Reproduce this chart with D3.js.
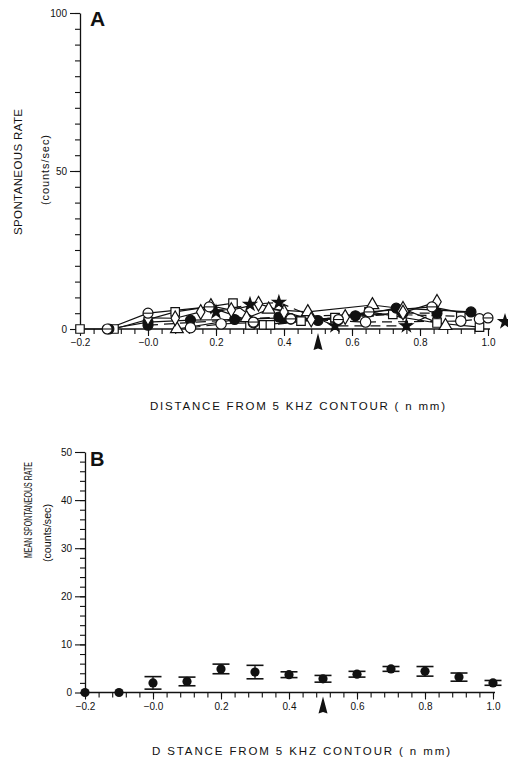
<!DOCTYPE html>
<html>
<head>
<meta charset="utf-8">
<script src="https://cdn.jsdelivr.net/npm/d3@7"></script>
<style>
  body { margin: 0; background: #fff; }
  svg { display: block; }
  text { font-family: "Liberation Sans", Arial, sans-serif; fill: #111; }
  .tick text { font-size: 10px; }
</style>
</head>
<body>
<svg id="chart" width="508" height="762"></svg>
<script>
// ---- data, panel A (distance in mm, rate counts/sec) ----
const aSquare   = [[-0.2,0],[-0.1,0],[0.08,5.4],[0.25,8.2],[0.34,1.3],[0.45,2.5],[0.55,3.5],[0.65,5.4],[0.85,1.9],[0.975,0.6]];
const aSquare2  = [[0.3,1.3],[0.36,1.3],[0.55,3.6],[0.72,4.6],[0.92,4.0]];
const aFilled   = [[-0.115,0],[0,2.2],[0.125,2.8],[0.255,3.0],[0.395,3.5],[0.5,2.7],[0.61,4.2],[0.73,6.6],[0.95,5.4]];
const aFilled2  = [[0,1.2],[0.385,3.8],[0.75,5.0],[0.85,5.0]];
const aCircle   = [[0.125,0.4],[0.215,1.6],[0.31,2.0],[0.42,3.2],[0.64,2.2],[0.92,2.5],[0.975,3.2]];
const aTriangle = [[0.085,0],[0.29,3.5],[0.355,6.2],[0.47,5.4],[0.66,7.6],[0.75,6.4],[0.875,1.0]];
const aDiamond  = [[0,3.5],[0.08,3.4],[0.155,5.4],[0.185,7.3],[0.245,6.0],[0.325,8.0],[0.4,5.4],[0.48,3.0],[0.58,3.8],[0.75,5.2],[0.85,8.6]];
const aStar     = [[0.2,5.4],[0.3,7.8],[0.385,8.4],[0.55,1.0],[0.76,1.0],[0.85,5.3]];
const aStarLone = [[1.05,2.3]];
const aTheta    = [[-0.12,0],[0,5.0],[0.18,7.0],[0.31,2.2],[0.42,3.2],[0.56,3.0],[0.65,5.4],[0.835,7.0],[1.0,3.5]];

// ---- data, panel B (mean +/- error) ----
const bX    = [-0.2,-0.1,0,0.1,0.2,0.3,0.4,0.5,0.6,0.7,0.8,0.9,1.0];
const bMean = [0,0,2.0,2.3,4.9,4.25,3.7,2.85,3.8,4.9,4.4,3.2,2.0];
const bErr  = [0,0,1.3,0.9,1.0,1.4,0.6,0.7,0.6,0.5,1.0,0.85,0.5];

// ---- ticks ----
const xTickLabels = [-0.2,0,0.2,0.4,0.6,0.8,1.0];
const aYTickLabels = [0,50,100];
const bYTickLabels = [0,10,20,30,40,50];
const arrowAt = 0.5;

const svg = d3.select("#chart");
const fmtX = d => d < 0 ? "\u2212" + Math.abs(d).toFixed(1) : (d === 0 ? "\u22120.0" : d.toFixed(1));

// panel geometry
const A = { x: d3.scaleLinear().domain([-0.2,1.0]).range([80,488]),
            y: d3.scaleLinear().domain([0,100]).range([329,13]) };
const B = { x: d3.scaleLinear().domain([-0.2,1.0]).range([85,493]),
            y: d3.scaleLinear().domain([0,50]).range([692.5,452]) };

function styleAxis(g) {
  g.selectAll("path.domain").attr("stroke", "#111").attr("stroke-width", 1.3);
  g.selectAll(".tick line").attr("stroke", "#111").attr("stroke-width", 1.1);
}

function drawAxes(P, yMinorStep, yMajor, xEnd) {
  const x0 = P.y.range()[0];
  const xMinor = d3.range(-0.2, 1.0001, 0.04);
  // minor x ticks
  svg.append("g").attr("transform", `translate(0,${x0})`)
    .call(d3.axisBottom(P.x).tickValues(xMinor).tickSize(5).tickFormat("").tickSizeOuter(0))
    .call(g => g.select("path.domain").remove())
    .call(styleAxis);
  // major x ticks + labels
  svg.append("g").attr("transform", `translate(0,${x0})`)
    .call(d3.axisBottom(P.x).tickValues(xTickLabels).tickSize(7).tickPadding(3).tickFormat(fmtX).tickSizeOuter(0))
    .call(g => g.select("path.domain").attr("d", `M${P.x.range()[0]},0H${xEnd}`))
    .call(styleAxis);
  // minor y ticks
  const yMinor = d3.range(0, P.y.domain()[1] + 0.001, yMinorStep);
  svg.append("g").attr("transform", `translate(${P.x.range()[0]},0)`)
    .call(d3.axisLeft(P.y).tickValues(yMinor).tickSize(5).tickFormat("").tickSizeOuter(0))
    .call(styleAxis);
  svg.append("g").attr("transform", `translate(${P.x.range()[0]},0)`)
    .call(d3.axisLeft(P.y).tickValues(yMajor).tickSize(10).tickPadding(3).tickSizeOuter(0))
    .call(g => g.select("path.domain").remove())
    .call(styleAxis);
  // arrow marker at 0.5
  const ax = P.x(arrowAt), ay = x0 + 4;
  svg.append("path")
    .attr("d", `M${ax},${ay} L${ax-4.5},${ay+17} L${ax},${ay+15.5} L${ax+4.5},${ay+17} Z`)
    .attr("fill", "#111");
}

drawAxes(A, 5, aYTickLabels, 490);
drawAxes(B, 2, bYTickLabels, 495);

// ---- panel A series ----
const line = d3.line().x(d => A.x(d[0])).y(d => A.y(d[1]));
const series = [
  { data: aSquare,   sym: d3.symbolSquare,   size: 72, fill: "#fff", dash: null },
  { data: aSquare2,  sym: d3.symbolSquare,   size: 72, fill: "#fff", dash: "9,5" },
  { data: aFilled,   sym: d3.symbolCircle,   size: 78, fill: "#111", dash: null },
  { data: aFilled2,  sym: d3.symbolCircle,   size: 78, fill: "#111", dash: "10,6" },
  { data: aCircle,   sym: d3.symbolCircle,   size: 85, fill: "#fff", dash: "10,6" },
  { data: aTriangle, sym: d3.symbolTriangle, size: 70, fill: "#fff", dash: null },
  { data: aDiamond,  sym: d3.symbolDiamond,  size: 62, fill: "#fff", dash: null },
  { data: aStar,     sym: d3.symbolStar,     size: 50, fill: "#111", dash: "10,6" },
  { data: aStarLone, sym: d3.symbolStar,     size: 50, fill: "#111", dash: null },
  { data: aTheta,    sym: d3.symbolCircle,   size: 78, fill: "#fff", dash: null, bar: true }
];

const gA = svg.append("g");
series.forEach(s => {
  if (s.data.length > 1) {
    gA.append("path").datum(s.data)
      .attr("d", line)
      .attr("fill", "none")
      .attr("stroke", "#111")
      .attr("stroke-width", 1.2)
      .attr("stroke-dasharray", s.dash);
  }
});
series.forEach(s => {
  const g = gA.append("g");
  g.selectAll("path.m").data(s.data).join("path")
    .attr("class", "m")
    .attr("transform", d => `translate(${A.x(d[0])},${A.y(d[1])})`)
    .attr("d", d3.symbol().type(s.sym).size(s.size))
    .attr("fill", s.fill)
    .attr("stroke", "#111")
    .attr("stroke-width", 1.2);
  if (s.bar) {
    g.selectAll("line.b").data(s.data).join("line")
      .attr("x1", d => A.x(d[0]) - 5).attr("x2", d => A.x(d[0]) + 5)
      .attr("y1", d => A.y(d[1])).attr("y2", d => A.y(d[1]))
      .attr("stroke", "#111").attr("stroke-width", 1.1);
  }
});

// ---- panel B points with error bars ----
const bData = bX.map((x, i) => ({ x, m: bMean[i], e: bErr[i] }));
const gB = svg.append("g");
const withErr = bData.filter(d => d.e > 0);
gB.selectAll("line.v").data(withErr).join("line")
  .attr("x1", d => B.x(d.x)).attr("x2", d => B.x(d.x))
  .attr("y1", d => B.y(d.m - d.e)).attr("y2", d => B.y(d.m + d.e))
  .attr("stroke", "#111").attr("stroke-width", 1.3);
["top", "bot"].forEach(k => {
  gB.selectAll("line.c" + k).data(withErr).join("line")
    .attr("x1", d => B.x(d.x) - 8.5).attr("x2", d => B.x(d.x) + 8.5)
    .attr("y1", d => B.y(k === "top" ? d.m + d.e : d.m - d.e))
    .attr("y2", d => B.y(k === "top" ? d.m + d.e : d.m - d.e))
    .attr("stroke", "#111").attr("stroke-width", 1.6);
});
gB.selectAll("circle").data(bData).join("circle")
  .attr("cx", d => B.x(d.x)).attr("cy", d => B.y(d.m))
  .attr("r", 4.6).attr("fill", "#111");

// ---- titles ----
svg.append("text").attr("x", 90).attr("y", 26)
  .attr("font-size", 21).attr("font-weight", "bold").text("A");
svg.append("text").attr("x", 90).attr("y", 466)
  .attr("font-size", 20).attr("font-weight", "bold").text("B");

function hTitle(txt, x, y, len, size) {
  svg.append("text").attr("x", x).attr("y", y)
    .attr("font-size", size).attr("textLength", len).attr("lengthAdjust", "spacing")
    .text(txt);
}
function vTitle(txt, cx, cy, len, size, adjust) {
  svg.append("text")
    .attr("transform", `translate(${cx},${cy}) rotate(-90)`)
    .attr("text-anchor", "middle").attr("dy", "0.35em")
    .attr("font-size", size).attr("textLength", len).attr("lengthAdjust", adjust || "spacing")
    .text(txt);
}
hTitle("DISTANCE  FROM  5  KHZ  CONTOUR  ( n  mm)", 150, 410, 295, 11.5);
hTitle("D STANCE  FROM  5  KHZ  CONTOUR  ( n  mm)", 152, 755, 298, 11.5);
vTitle("SPONTANEOUS  RATE", 18, 172, 126, 11.5);
vTitle("(counts/sec)", 45, 170, 70, 11);
vTitle("MEAN  SPONTANEOUS  RATE", 28, 510, 96, 11, "spacingAndGlyphs");
vTitle("(counts/sec)", 47, 533, 58, 11, "spacingAndGlyphs");
</script>
</body>
</html>
